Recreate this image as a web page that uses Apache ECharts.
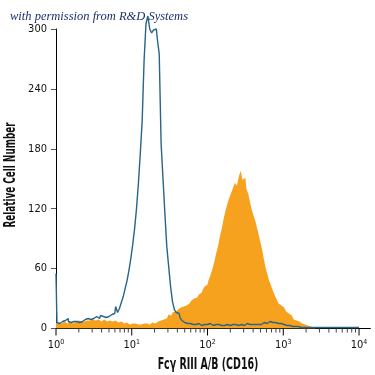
<!DOCTYPE html>
<html><head><meta charset="utf-8">
<script src="https://cdn.jsdelivr.net/npm/echarts@6/dist/echarts.min.js"></script>
<style>html,body{margin:0;padding:0;background:#fff}#c{width:375px;height:375px}</style>
</head><body><div id="c"></div>
<script>
// bins in log10 decades
const binStart = 0, binWidth = 0.025;
const isotypeCounts = [
55,6,5,7,6,8,10,7,6,7, 9,7,6,8,7,9,8,10,9,11,
10,12,11,10,13,12,11,13,12,14, 13,15,22,16,20,26,32,40,48,58,
70,84,100,120,145,175,208,268,305,313, 300,296,299,300,290,275,185,150,115,82,
62,42,27,19,16,15,11,8,6,5, 4,5,4,3,4,5,4,3,4,3,
4,5,4,3,4,5,4,3,4,3, 4,4,3,4,5,4,3,4,4,3,
4,5,4,3,4,4,5,4,4,5, 6,5,6,7,6,7,6,5,6,5,
4,4,3,3,3,2,2,2,2,1, 1,1,1,1,1,1,1,1,1,1,
1,1,1,1,1,1,1,1,1,1, 1,1,1,1,1,1,1,1,1,1, 1
];
const cd16Counts = [
6,5,6,5,7,6,5,7,6,5, 7,6,8,7,6,7,8,7,8,9,
7,8,9,8,7,9,8,7,8,9, 7,8,7,6,7,6,5,6,5,4,
5,4,5,4,3,4,5,4,5,4, 5,6,5,6,7,8,7,9,10,12,
14,13,16,17,19,20,21,22,24,23, 25,27,28,30,31,33,34,36,39,42,
44,48,53,59,66,75,82,92,100,110, 118,125,131,136,141,146,143,152,158,149,
151,140,135,126,118,112,106,98,90,82, 72,62,55,48,43,38,33,29,25,23,
21,19,17,15,13,11,9,8,7,6, 5,4,3,3,2,2,1,0,0,0,
0,0,0,0,0,0,0,0,0,0, 0,0,0,0,0,0,0,0,0,0, 0
];
const decades = [0,1,2,3,4];
const yTicks = [0,60,120,180,240,300];
const xTitle = 'Fcγ RIII A/B (CD16)';
const yTitle = 'Relative Cell Number';
const note = 'with permission from R&D Systems';

const toPairs = arr => arr.map((v,i)=>[binStart + i*binWidth, v]);
const tickData = [];
decades.forEach(d => tickData.push([d, 1]));
decades.slice(0,4).forEach(d => { for (let k=2;k<=9;k++) tickData.push([d + Math.log10(k), 0]); });

const font = "'DejaVu Sans Condensed','Liberation Sans Narrow',sans-serif";
const chart = echarts.init(document.getElementById('c'));
chart.setOption({
  animation:false,
  grid:{left:56, right:4.6, top:29, bottom:46.5},
  xAxis:{type:'value', min:0, max:4.15, interval:1,
    axisLine:{lineStyle:{color:'#000', width:1}},
    axisTick:{show:false}, splitLine:{show:false},
    axisLabel:{margin:10, color:'#111', fontFamily:font,
      formatter: v => (Number.isInteger(v) ? '{b|10}{s|'+v+'}' : ''),
      rich:{b:{fontSize:11, lineHeight:13, fontFamily:font, color:'#111'}, s:{fontSize:7, lineHeight:7, verticalAlign:'top', fontFamily:font, color:'#111'}}}
  },
  yAxis:{type:'value', min:0, max:300, interval:60,
    axisLine:{show:true, lineStyle:{color:'#000', width:1}},
    axisTick:{show:true, length:5, lineStyle:{color:'#555'}},
    splitLine:{show:false},
    axisLabel:{margin:9, fontSize:11, color:'#111', fontFamily:font}
  },
  graphic:[
    {type:'text', left:10, top:10, style:{text:note, font:"italic 12.5px 'Liberation Serif','DejaVu Serif',serif", fill:'#1e2f6e'}},
    {type:'text', x:208, y:365, scaleX:0.63, style:{text:xTitle, font:"bold 15px 'DejaVu Sans',sans-serif", fill:'#111', align:'center', verticalAlign:'middle'}},
    {type:'text', x:11, y:175, rotation:Math.PI/2, scaleX:0.59, style:{text:yTitle, font:"bold 15px 'DejaVu Sans',sans-serif", fill:'#111', align:'center', verticalAlign:'middle'}}
  ],
  series:[
    {type:'line', data:toPairs(cd16Counts), step:'middle', symbol:'none',
     lineStyle:{width:0}, itemStyle:{color:'#f7a21f'}, areaStyle:{color:'#f7a21f', opacity:1}, z:2},
    {type:'line', data:toPairs(isotypeCounts), step:'middle', symbol:'none', clip:false,
     lineStyle:{width:1.4, color:'#2b6389'}, itemStyle:{color:'#2b6389'}, z:3},
    {type:'custom', data:tickData, clip:false, silent:true, z:4,
     renderItem:(params, api) => {
       const p = api.coord([api.value(0), 0]);
       const len = api.value(1) ? 7 : 4;
       return {type:'line', shape:{x1:p[0], y1:p[1], x2:p[0], y2:p[1]+len},
               style:{stroke: api.value(1) ? '#000' : '#444', lineWidth:1}};
     }}
  ]
});
</script></body></html>
